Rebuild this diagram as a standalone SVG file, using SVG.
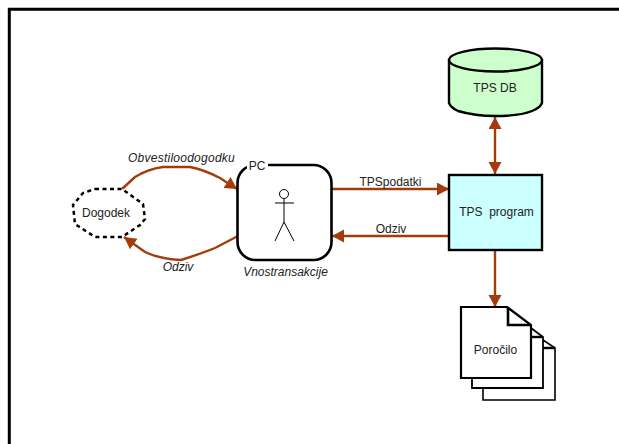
<svg xmlns="http://www.w3.org/2000/svg" width="619" height="444" viewBox="0 0 619 444">
<defs>
<marker id="ah" markerUnits="userSpaceOnUse" markerWidth="14" markerHeight="14" refX="12" refY="6.5" orient="auto-start-reverse"><path d="M0,0L12,6.5L0,13Z" fill="#a33c0a"/></marker>
</defs>
<style>
text{font-family:"Liberation Sans",Arial,sans-serif;font-size:12px;fill:#222}
.i{font-style:italic}
.c{fill:none;stroke:#a33c0a;stroke-width:2.4}
.b{stroke:#000;stroke-width:2.4}
</style>
<rect width="619" height="444" fill="#fff"/>
<path id="frame" d="M9.300,444V9.300H619" fill="none" stroke="#000" stroke-width="3"/>
<g id="connectors">
<path class="c" marker-end="url(#ah)" d="M122,189L135,177Q148,169 163,167L190,167Q205,170 220,178L237,189"/>
<path class="c" marker-end="url(#ah)" d="M238,236L215,248Q200,254 181,260Q160,259 145,252L124,237"/>
<path class="c" marker-end="url(#ah)" d="M331,189H449"/>
<path class="c" marker-end="url(#ah)" d="M450,236H332"/>
<path class="c" marker-start="url(#ah)" marker-end="url(#ah)" d="M495,117V174"/>
<path class="c" marker-end="url(#ah)" d="M495,250V307"/>
</g>
<g id="dogodek">
<path d="M95,189H122L143,204L145,219L140,225L122,237H95L75,224L73,205L83,193Z" fill="#fff" stroke="#000" stroke-width="2.5" stroke-dasharray="4 3.5"/>
<text x="106" y="217" text-anchor="middle">Dogodek</text>
</g>
<g id="pc">
<rect x="237.500" y="165" width="94" height="95" rx="18" fill="#fff" stroke="#000" stroke-width="2.6"/>
<rect x="247" y="158" width="21" height="14" fill="#fff"/>
<text x="257" y="170" text-anchor="middle">PC</text>
<g fill="none" stroke="#000" stroke-width="1">
<circle cx="284" cy="194" r="4.500"/>
<path d="M284,199V222M275,203H294M275,241L284,222L294,241"/>
</g>
</g>
<g id="tpsdb">
<path class="b" d="M449,60V103Q451,108 458,111Q475,116 495,116Q520,116 532,111Q540,108 542,103V60Z" fill="#ccffcc"/>
<ellipse class="b" cx="495.500" cy="60" rx="46.500" ry="11.500" fill="#ccffcc"/>
<text x="495" y="92" text-anchor="middle">TPS DB</text>
</g>
<g id="tpsprogram">
<rect class="b" x="449" y="175" width="93" height="75" fill="#ccffff"/>
<text x="496.500" y="216" text-anchor="middle" xml:space="preserve">TPS  program</text>
</g>
<g id="porocilo">
<path d="M483,388V400H555V348L543,340" fill="#fff" stroke="#000" stroke-width="1.6"/>
<path d="M543,348H555" stroke="#000" stroke-width="2.4" fill="none"/>
<path d="M472,378V388H543V337L531,328" fill="#fff" stroke="#000" stroke-width="1.8"/>
<path d="M531,337H543" stroke="#000" stroke-width="2.4" fill="none"/>
<path d="M461,307H507L531,325V378H461Z" fill="#fff" stroke="#000" stroke-width="2.2"/>
<path d="M508,307V325H531" fill="none" stroke="#000" stroke-width="2.6"/>
<text x="495.500" y="354" text-anchor="middle">Poročilo</text>
</g>
<text class="i" x="181.500" y="162" text-anchor="middle" style="letter-spacing:.25px">Obvestiloodogodku</text>
<text class="i" x="178" y="271" text-anchor="middle">Odziv</text>
<text class="i" x="285.500" y="276" text-anchor="middle">Vnostransakcije</text>
<text x="390.500" y="186" text-anchor="middle">TPSpodatki</text>
<text x="391" y="233" text-anchor="middle">Odziv</text>
</svg>
